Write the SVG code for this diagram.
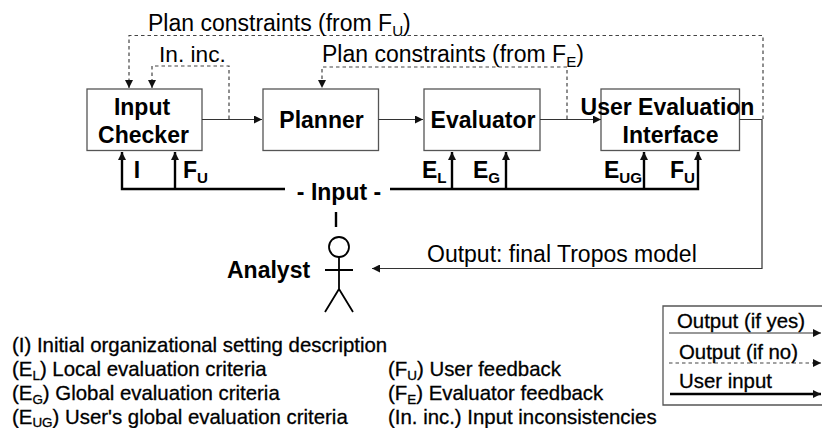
<svg xmlns="http://www.w3.org/2000/svg" width="822" height="428" viewBox="0 0 822 428">
<style>
text{font-family:"Liberation Sans",Arial,sans-serif;fill:#000}
.b{font-weight:bold;font-size:23px;text-anchor:middle}
.l{font-size:23px}
.k{font-size:20.400px;stroke:#000;stroke-width:.3px}
.s{font-size:.66em}
.box{fill:none;stroke:#555;stroke-width:1.3}
.o{fill:none;stroke:#333;stroke-width:1.2}
.d{fill:none;stroke:#444;stroke-width:1.2;stroke-dasharray:3.5 3}
.u{fill:none;stroke:#000;stroke-width:2.4}
</style>
<defs>
<marker id="a" markerUnits="userSpaceOnUse" markerWidth="9" markerHeight="8" refX="8" refY="4" orient="auto"><path d="M0 0L8 4L0 8z" fill="#111"/></marker>
</defs>
<g id="input-checker"><rect class="box" x="87" y="89" width="115" height="61.500"/><text class="b" x="142" y="115">Input</text><text class="b" x="143.500" y="143">Checker</text></g>
<g id="planner"><rect class="box" x="263" y="89" width="115.500" height="61.500"/><text class="b" x="321.500" y="128">Planner</text></g>
<g id="evaluator"><rect class="box" x="424" y="89" width="116" height="61.500"/><text class="b" x="483" y="128">Evaluator</text></g>
<g id="user-evaluation-interface"><rect class="box" x="601" y="89" width="138.500" height="61.500"/><text class="b" x="667.500" y="115">User Evaluation</text><text class="b" x="670.500" y="143">Interface</text></g>
<g id="connectors">
<path class="d" d="M763 119V35.500H129V88" marker-end="url(#a)"/>
<path class="d" d="M229 119V66H152V88" marker-end="url(#a)"/>
<path class="d" d="M567 119V67H322V88" marker-end="url(#a)"/>
<path class="o" d="M202 119.500H262" marker-end="url(#a)"/>
<path class="o" d="M378.500 119.500H423" marker-end="url(#a)"/>
<path class="o" d="M540 119.500H601" marker-end="url(#a)"/>
<path class="o" d="M739.500 119.500H762V268.500H372" marker-end="url(#a)"/>
<path class="u" d="M285 189H122V152" marker-end="url(#a)"/>
<path class="u" d="M175 189V152" marker-end="url(#a)"/>
<path class="u" d="M390 189H698V152" marker-end="url(#a)"/>
<path class="u" d="M452 189V152" marker-end="url(#a)"/>
<path class="u" d="M506 189V152" marker-end="url(#a)"/>
<path class="u" d="M644 189V152" marker-end="url(#a)"/>
<path class="u" d="M336 212V227"/>
</g>
<g id="analyst" fill="none" stroke="#000" stroke-width="1.8"><circle cx="339" cy="247" r="10"/><path d="M339 257V289M325 270H353M339 289L325 312M339 289L353 312"/></g>
<g id="labels">
<text class="l" x="148" y="31">Plan constraints (from F<tspan class="s" dy="5">U</tspan><tspan dy="-5">)</tspan></text>
<text class="l" x="159" y="62" style="font-size:22.700px">In. inc.</text>
<text class="l" x="322" y="62">Plan constraints (from F<tspan class="s" dy="5">E</tspan><tspan dy="-5">)</tspan></text>
<text class="b" x="137" y="178">I</text>
<text class="b" x="183" y="178" style="text-anchor:start">F<tspan class="s" dy="5">U</tspan></text>
<text class="b" x="422" y="178" style="text-anchor:start">E<tspan class="s" dy="5">L</tspan></text>
<text class="b" x="473" y="178" style="text-anchor:start">E<tspan class="s" dy="5">G</tspan></text>
<text class="b" x="604" y="178" style="text-anchor:start">E<tspan class="s" dy="5">UG</tspan></text>
<text class="b" x="670" y="178" style="text-anchor:start">F<tspan class="s" dy="5">U</tspan></text>
<text class="b" x="339" y="200">- Input -</text>
<text class="b" x="227" y="278" style="text-anchor:start">Analyst</text>
<text class="l" x="427" y="262">Output: final Tropos model</text>
</g>
<g id="key">
<text class="k" x="12" y="352">(I) Initial organizational setting description</text>
<text class="k" x="12" y="376">(E<tspan class="s" dy="4">L</tspan><tspan dy="-4">) Local evaluation criteria</tspan></text>
<text class="k" x="12" y="400">(E<tspan class="s" dy="4">G</tspan><tspan dy="-4">) Global evaluation criteria</tspan></text>
<text class="k" x="12" y="423.500">(E<tspan class="s" dy="3">UG</tspan><tspan dy="-3">) User's global evaluation criteria</tspan></text>
<text class="k" x="388" y="376">(F<tspan class="s" dy="4">U</tspan><tspan dy="-4">) User feedback</tspan></text>
<text class="k" x="388" y="400">(F<tspan class="s" dy="4">E</tspan><tspan dy="-4">) Evaluator feedback</tspan></text>
<text class="k" x="388" y="423.500">(In. inc.) Input inconsistencies</text>
</g>
<g id="legend">
<path d="M822 306H663V405H822" fill="none" stroke="#555" stroke-width="1.3"/>
<path class="o" d="M669 333H821" marker-end="url(#a)"/>
<path class="d" d="M669 363H821" marker-end="url(#a)"/>
<path class="u" d="M670 394H821" marker-end="url(#a)"/>
<text class="k" x="677" y="328">Output (if yes)</text>
<text class="k" x="679" y="359">Output (if no)</text>
<text class="k" x="679" y="388">User input</text>
</g>
</svg>
